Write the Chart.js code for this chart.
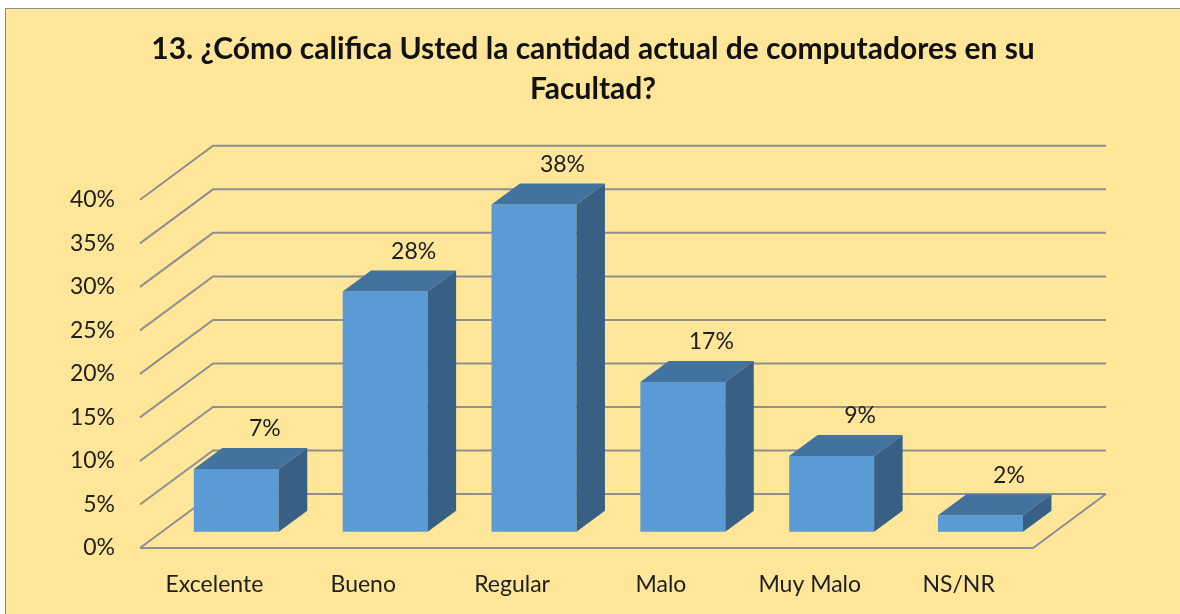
<!DOCTYPE html>
<html>
<head>
<meta charset="utf-8">
<style>
  html, body { margin: 0; padding: 0; background: #fff; }
  #box { position: absolute; left: 5px; top: 8px; width: 1180px; height: 620px; background: #FFE699; border: 1px solid #8c8c8c; }
  #chart { position: absolute; left: 0; top: 0; }
</style>
</head>
<body>
<div id="box"></div>
<canvas id="chart" width="1180" height="614"></canvas>
<script src="https://cdn.jsdelivr.net/npm/chart.js"></script>
<script>
const categories = ['Excelente', 'Bueno', 'Regular', 'Malo', 'Muy Malo', 'NS/NR'];
const percentages = [7.2, 27.6, 37.6, 17.2, 8.7, 1.9];
const yTicks = [0, 5, 10, 15, 20, 25, 30, 35, 40];
const titleLines = ['13. ¿Cómo califica Usted la cantidad actual de computadores en su', 'Facultad?'];

// oblique depth of the floor, and where the bars sit inside it
const DEPTH_X = 73, DEPTH_Y = -54;
const BAR_OFFSET = 0.3, BAR_DEPTH = 0.39;

function poly(ctx, pts, fill) {
    ctx.beginPath();
    ctx.moveTo(pts[0][0], pts[0][1]);
    pts.slice(1).forEach(p => ctx.lineTo(p[0], p[1]));
    ctx.closePath();
    ctx.fillStyle = fill;
    ctx.fill();
}

const box3d = {
    id: 'box3d',
    beforeDatasetsDraw(chart) {
        const ctx = chart.ctx, a = chart.chartArea, y = chart.scales.y;
        ctx.save();
        ctx.strokeStyle = '#8f8f8f';
        ctx.lineWidth = 2;
        y.ticks.forEach(t => {
            const py = y.getPixelForValue(t.value);
            ctx.beginPath();
            ctx.moveTo(a.left, py);
            ctx.lineTo(a.left + DEPTH_X, py + DEPTH_Y);
            ctx.lineTo(a.right + DEPTH_X, py + DEPTH_Y);
            ctx.stroke();
        });
        const b = y.getPixelForValue(0);
        ctx.beginPath();
        ctx.moveTo(a.left, b);
        ctx.lineTo(a.right, b);
        ctx.lineTo(a.right + DEPTH_X, b + DEPTH_Y);
        ctx.stroke();
        ctx.restore();
        // front faces are drawn by Chart.js, pushed back into the floor
        ctx.save();
        ctx.translate(DEPTH_X * BAR_OFFSET, DEPTH_Y * BAR_OFFSET);
    },
    afterDatasetsDraw(chart) {
        const ctx = chart.ctx;
        ctx.restore();
        const ox = DEPTH_X * BAR_OFFSET, oy = DEPTH_Y * BAR_OFFSET;
        const dx = DEPTH_X * BAR_DEPTH, dy = DEPTH_Y * BAR_DEPTH;
        ctx.save();
        chart.getDatasetMeta(0).data.forEach((bar, i) => {
            const p = bar.getProps(['x', 'y', 'base', 'width'], true);
            const l = p.x - p.width / 2 + ox, r = p.x + p.width / 2 + ox;
            const t = p.y + oy, bt = p.base + oy;
            poly(ctx, [[l, t], [l + dx, t + dy], [r + dx, t + dy], [r, t]], '#44729f');
            poly(ctx, [[r, t], [r + dx, t + dy], [r + dx, bt + dy], [r, bt]], '#386085');
            ctx.fillStyle = '#1e1e1e';
            ctx.font = '23px Lato';
            ctx.textAlign = 'center';
            ctx.textBaseline = 'middle';
            ctx.fillText(Math.round(percentages[i]) + '%', (l + r) / 2 + dx, t + dy - 19);
        });
        ctx.restore();
    }
};

new Chart(document.getElementById('chart'), {
    type: 'bar',
    data: {
        labels: categories,
        datasets: [{
            data: percentages,
            backgroundColor: '#5b9bd5',
            barPercentage: 1,
            categoryPercentage: 0.571,
            clip: false
        }]
    },
    options: {
        responsive: false,
        animation: false,
        layout: { padding: { left: 6, top: 0, right: 0, bottom: 0 } },
        plugins: {
            legend: { display: false },
            tooltip: { enabled: false },
            title: {
                display: true,
                text: titleLines,
                color: '#111',
                font: { family: 'Lato', size: 30, weight: 'bold', lineHeight: 1.33 },
                padding: { top: 29, bottom: 91 }
            }
        },
        scales: {
            x: {
                grid: { display: false, drawTicks: false },
                border: { display: false },
                ticks: { color: '#1e1e1e', font: { family: 'Lato', size: 23 }, padding: 23 },
                afterFit(s) { s.height = 66; }
            },
            y: {
                min: 0,
                max: 40,
                grid: { display: false, drawTicks: false },
                border: { display: false },
                afterBuildTicks(s) { s.ticks = yTicks.map(v => ({ value: v })); },
                ticks: {
                    color: '#1e1e1e',
                    font: { family: 'Lato', size: 23 },
                    padding: 25,
                    callback: v => v + '%'
                },
                afterFit(s) { s.width = 134; }
            },
            y2: {
                position: 'right',
                grid: { display: false, drawTicks: false },
                border: { display: false },
                ticks: { display: false },
                afterFit(s) { s.width = 147; }
            }
        }
    },
    plugins: [box3d]
});
</script>
</body>
</html>
